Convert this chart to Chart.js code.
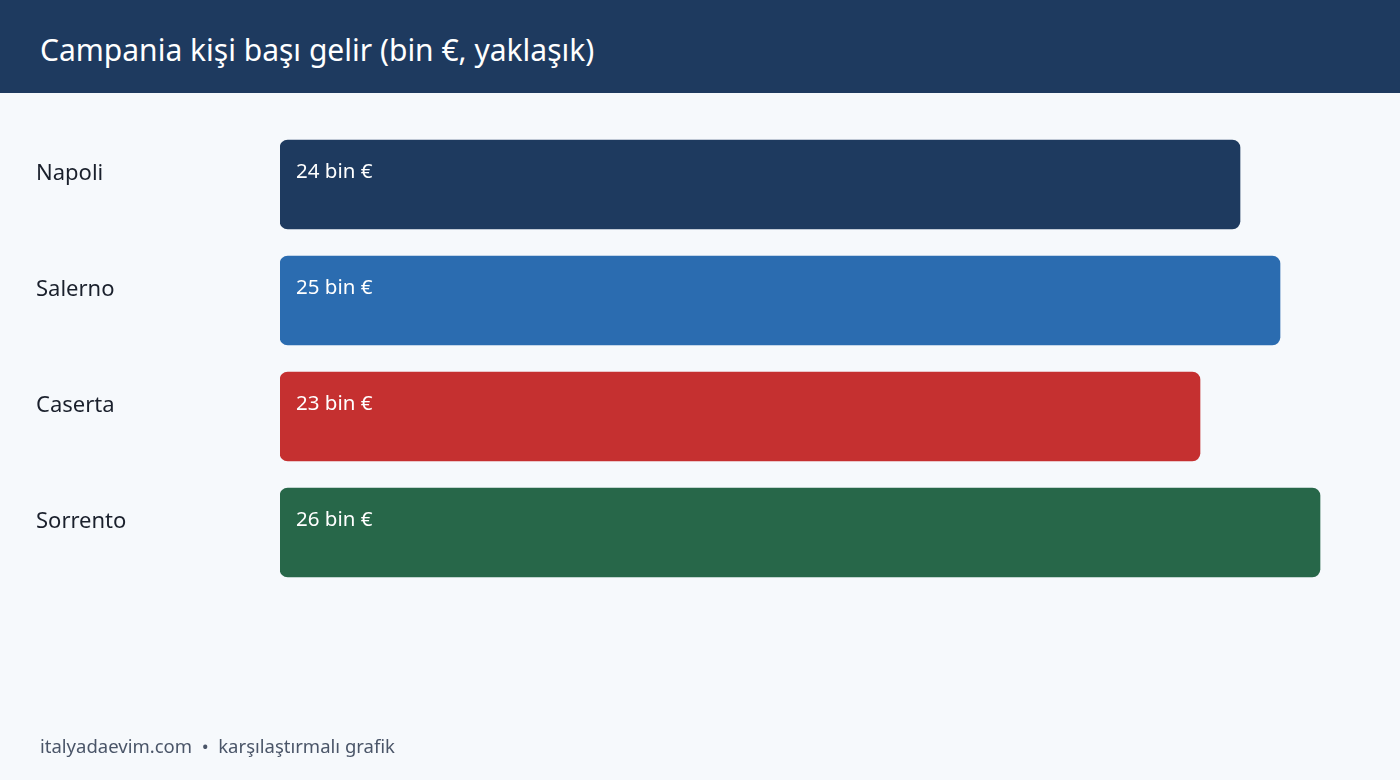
<!DOCTYPE html>
<html>
<head>
<meta charset="utf-8">
<script src="https://cdn.jsdelivr.net/npm/chart.js@4"></script>
<style>
  html, body { margin: 0; padding: 0; }
  body { width: 1400px; height: 780px; background: #f6f9fc; font-family: "Noto Sans", sans-serif; position: relative; overflow: hidden; }
  .header { position: absolute; left: 0; top: 0; width: 1400px; height: 93px; background: #1e3a5f; }
  .header h1 { margin: 0; position: absolute; left: 40px; top: 35px; font-size: 30px; font-weight: 400; color: #fff; line-height: 1; }
  #wrap { position: absolute; left: 0; top: 93px; width: 1400px; height: 687px; }
  .footer { position: absolute; left: 40px; top: 737px; font-size: 18.5px; color: #4a5568; line-height: 1; }
</style>
</head>
<body>
<div class="header"><h1>Campania kişi başı gelir (bin €, yaklaşık)</h1></div>
<div id="wrap"><canvas id="myChart" width="1400" height="687"></canvas></div>
<div class="footer">italyadaevim.com &nbsp;•&nbsp; karşılaştırmalı grafik</div>
<script>
// şehirler ve değerler (bin €)
const cities = ['Napoli', 'Salerno', 'Caserta', 'Sorrento'];
const income = [24, 25, 23, 26];
const barColors = ['#1e3a5f', '#2b6cb0', '#c53030', '#276749'];
const unit = 'bin €';

// bar içindeki değer etiketleri
const valueLabels = {
  id: 'valueLabels',
  afterDatasetsDraw(chart) {
    const ctx = chart.ctx;
    const meta = chart.getDatasetMeta(0);
    ctx.save();
    ctx.font = '20.5px "Noto Sans"';
    ctx.fillStyle = '#ffffff';
    ctx.textAlign = 'left';
    ctx.textBaseline = 'alphabetic';
    meta.data.forEach((bar, i) => {
      const top = bar.y - bar.height / 2;
      ctx.fillText(income[i] + ' ' + unit, bar.base + 16, top + 38);
    });
    ctx.restore();
  }
};

new Chart(document.getElementById('myChart'), {
  type: 'bar',
  data: {
    labels: cities,
    datasets: [{
      data: income,
      backgroundColor: barColors,
      borderRadius: 8,
      borderSkipped: false,
      barThickness: 89
    }]
  },
  options: {
    indexAxis: 'y',
    responsive: false,
    animation: false,
    devicePixelRatio: 1,
    layout: { padding: { left: 36, right: 40, top: 33.5, bottom: 189.5 } },
    plugins: {
      legend: { display: false },
      tooltip: { enabled: false }
    },
    scales: {
      x: {
        display: false,
        min: 0,
        max: 27
      },
      y: {
        grid: { display: false },
        border: { display: false },
        afterFit: (scale) => { scale.width = 244; },
        ticks: {
          crossAlign: 'far',
          labelOffset: -11,
          padding: 0,
          color: '#1a202c',
          font: { family: 'Noto Sans', size: 22 }
        }
      }
    }
  },
  plugins: [valueLabels]
});
</script>
</body>
</html>
